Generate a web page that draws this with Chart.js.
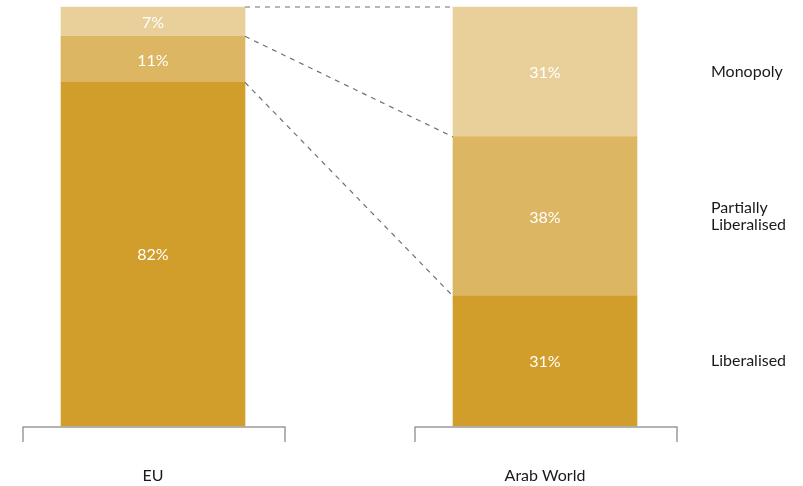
<!DOCTYPE html>
<html><head><meta charset="utf-8">
<script src="https://cdn.jsdelivr.net/npm/chart.js@4"></script>
<style>html,body{margin:0;padding:0;background:#fff}#wrap{width:803px;height:486px}</style>
</head><body><div id="wrap"><canvas id="c"></canvas></div>
<script>
// Market liberalisation: EU vs Arab World
const categories = ['EU', 'Arab World'];
const liberalised = [82, 31];
const partially = [11, 38];
const monopoly = [7, 31];
const seriesLabels = [['Liberalised'], ['Partially', 'Liberalised'], ['Monopoly']];

const FONT = 'Lato, "Noto Sans", sans-serif';

// Labels in bars, dashed connectors, brackets and the legend on the right
const decor = {
  id: 'decor',
  afterDatasetsDraw(chart) {
    const ctx = chart.ctx;
    const metas = [0, 1, 2].map(i => chart.getDatasetMeta(i));
    ctx.save();

    // values inside bars
    ctx.fillStyle = '#fff';
    ctx.font = '16px ' + FONT;
    ctx.textAlign = 'center';
    ctx.textBaseline = 'middle';
    metas.forEach((m, di) => {
      m.data.forEach((bar, i) => {
        const v = chart.data.datasets[di].data[i];
        ctx.fillText(v + '%', bar.x, (bar.y + bar.base) / 2 + 1);
      });
    });

    // dashed connectors from EU to Arab World
    ctx.strokeStyle = '#707070';
    ctx.lineWidth = 1.2;
    ctx.setLineDash([5, 5]);
    metas.forEach(m => {
      const a = m.data[0], b = m.data[1];
      ctx.beginPath();
      ctx.moveTo(a.x + a.width / 2, a.y);
      ctx.lineTo(b.x - b.width / 2, b.y);
      ctx.stroke();
    });
    ctx.setLineDash([]);

    // category brackets
    const bottom = chart.chartArea.bottom;
    ctx.strokeStyle = '#9a9a9a';
    ctx.lineWidth = 1.5;
    metas[0].data.forEach(bar => {
      const l = bar.x - 130, r = bar.x + 132;
      ctx.beginPath();
      ctx.moveTo(l, bottom + 16);
      ctx.lineTo(l, bottom + 1);
      ctx.lineTo(r, bottom + 1);
      ctx.lineTo(r, bottom + 16);
      ctx.stroke();
    });

    // legend beside Arab World bar
    ctx.fillStyle = '#1a1a1a';
    ctx.font = '16px ' + FONT;
    ctx.textAlign = 'left';
    metas.forEach((m, di) => {
      const bar = m.data[1];
      const lines = seriesLabels[di];
      const cy = (bar.y + bar.base) / 2;
      lines.forEach((t, li) => {
        ctx.fillText(t, 711, cy + (li - (lines.length - 1) / 2) * 17);
      });
    });
    ctx.restore();
  }
};

new Chart(document.getElementById('c'), {
  type: 'bar',
  data: {
    labels: categories,
    datasets: [
      {label: 'Liberalised', data: liberalised, backgroundColor: '#d19e2b'},
      {label: 'Partially Liberalised', data: partially, backgroundColor: '#dcb662'},
      {label: 'Monopoly', data: monopoly, backgroundColor: '#e9d09a'}
    ]
  },
  options: {
    responsive: true,
    maintainAspectRatio: false,
    animation: false,
    layout: {padding: {left: 153, right: 258, top: 7, bottom: 3}},
    datasets: {bar: {barThickness: 184, clip: false, borderWidth: 0}},
    plugins: {legend: {display: false}, tooltip: {enabled: false}},
    scales: {
      x: {
        stacked: true, offset: false,
        grid: {display: false, drawTicks: false}, border: {display: false},
        ticks: {color: '#1a1a1a', font: {family: FONT, size: 16}, padding: 40, maxRotation: 0, autoSkip: false},
        afterFit: s => { s.height = 57; }
      },
      y: {stacked: true, min: 0, max: 100, display: false}
    }
  },
  plugins: [decor]
});
</script></body></html>
